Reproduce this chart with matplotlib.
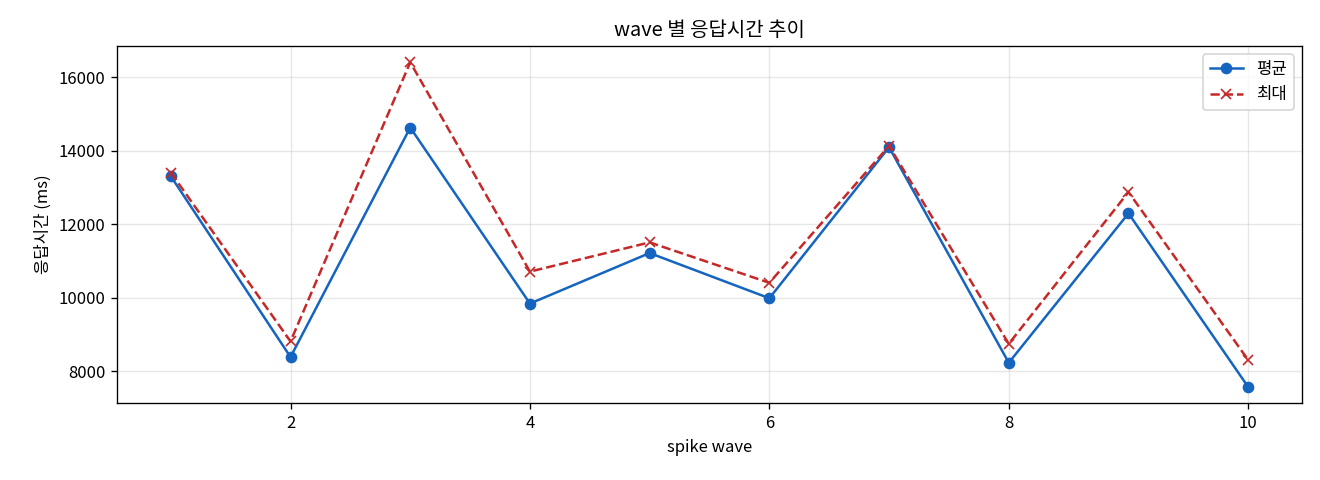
import matplotlib
matplotlib.use("Agg")
import matplotlib.pyplot as plt

plt.rcParams['font.family'] = ['Noto Sans CJK KR', 'DejaVu Sans']
plt.rcParams['axes.unicode_minus'] = False

waves = [1, 2, 3, 4, 5, 6, 7, 8, 9, 10]
avg_ms = [13300, 8380, 14625, 9835, 11210, 9980, 14090, 8225, 12290, 7566]
max_ms = [13400, 8805, 16400, 10705, 11500, 10400, 14125, 8740, 12870, 8300]

fig, ax = plt.subplots(figsize=(11, 4), dpi=120)
ax.plot(waves, avg_ms, marker='o', color='#1565C0', linewidth=1.5, markersize=6, label='평균')
ax.plot(waves, max_ms, marker='x', linestyle='--', color='#C62828', linewidth=1.5, markersize=6, label='최대')

ax.set_title('wave 별 응답시간 추이', fontsize=12)
ax.set_xlabel('spike wave', fontsize=10)
ax.set_ylabel('응답시간 (ms)', fontsize=10)
ax.grid(True, alpha=0.3)
ax.legend(loc='upper right')

fig.subplots_adjust(left=0.0886, right=0.9864, top=0.904, bottom=0.16)
plt.savefig('out.png', dpi=120)
